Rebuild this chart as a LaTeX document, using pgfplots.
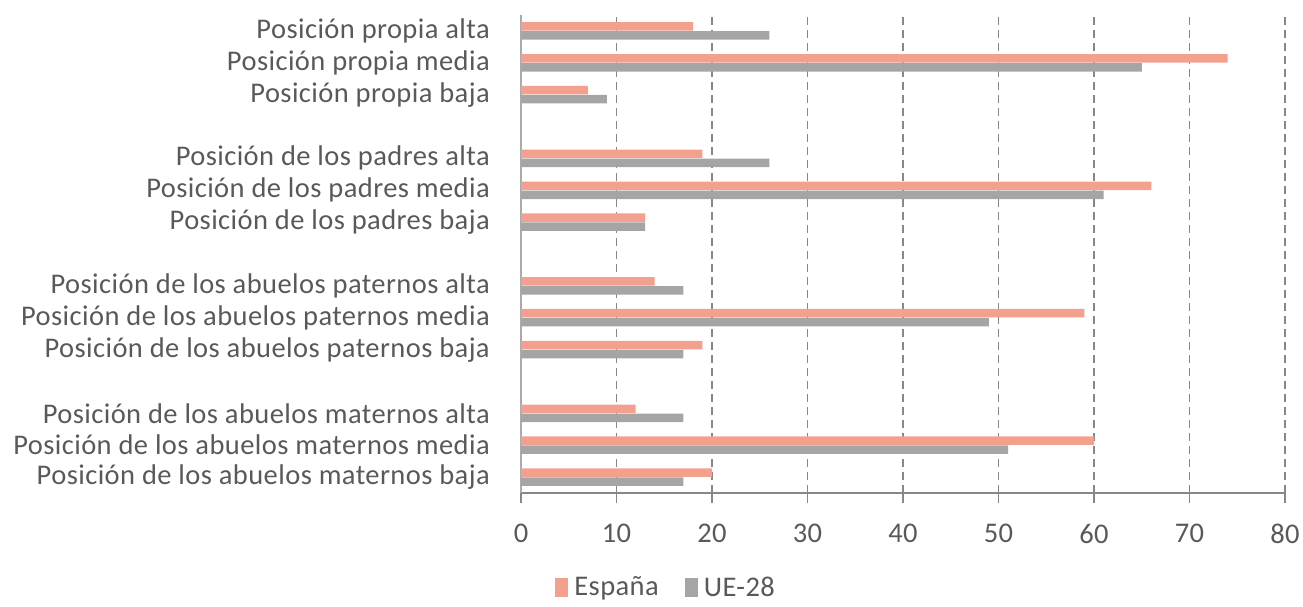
\documentclass[border=0pt]{standalone}
\usepackage{fontspec}
\setmainfont{Carlito}[LetterSpace=1.5]
\usepackage{pgfplots}
\pgfplotsset{compat=1.18}
\definecolor{esp}{HTML}{F3A08E}
\definecolor{ue}{HTML}{A5A5A5}
\definecolor{txt}{HTML}{595959}
\definecolor{gridc}{HTML}{878787}
\definecolor{yax}{HTML}{ABABAB}

\pgfplotstableread{
y  esp ue
14 18 26
13 74 65
12 7  9
10 19 26
9  66 61
8  13 13
6  14 17
5  59 49
4  19 17
2  12 17
1  60 51
0  20 17
}\datatable

\begin{document}
\begin{tikzpicture}[x=1pt,y=1pt]
\useasboundingbox (0,0) rectangle (1303,606);
\begin{axis}[
  at={(521pt,113pt)}, anchor=south west,
  scale only axis, width=764pt, height=478pt,
  xbar, bar width=8.5pt,
  xmin=0, xmax=80, ymin=-0.5, ymax=14.5,
  xtick={0,10,...,80},
  ytick={0,1,2,4,5,6,8,9,10,12,13,14},
  yticklabels={
    Posición de los abuelos maternos baja,
    Posición de los abuelos maternos media,
    Posición de los abuelos maternos alta,
    Posición de los abuelos paternos baja,
    Posición de los abuelos paternos media,
    Posición de los abuelos paternos alta,
    Posición de los padres baja,
    Posición de los padres media,
    Posición de los padres alta,
    Posición propia baja,
    Posición propia media,
    Posición propia alta},
  font=\fontsize{28.5}{32}\selectfont,
  tick label style={text=txt},
  /pgf/number format/assume math mode=true,
  axis x line=bottom, axis y line=left,
  x axis line style={-, color=gridc, line width=2pt},
  y axis line style={-, color=yax, line width=1.5pt},
  xtick style={color=gridc, line width=1.5pt},
  ytick style={draw=none},
  major tick length=10pt,
  xtick align=outside,
  xticklabel style={inner sep=0pt, anchor=north, yshift=-21pt},
  yticklabel style={inner sep=0pt, anchor=east, xshift=-26pt},
  xmajorgrids,
  major grid style={color=gridc, dash pattern=on 8pt off 5pt, line width=1.4pt},
  legend style={at={(axis description cs:0.19,-0.197)}, anchor=center,
    draw=none, fill=none, legend columns=2, text=txt, inner sep=1pt,
    /tikz/every odd column/.append style={column sep=4pt},
    /tikz/every even column/.append style={column sep=24pt}},
  legend image code/.code={\fill[#1] (2pt,-10pt) rectangle (15pt,9pt);},
]
\addplot[fill=esp, draw=none, bar shift=4.5pt] table[x=esp, y=y] {\datatable};
\addplot[fill=ue, draw=none, bar shift=-4.5pt] table[x=ue, y=y] {\datatable};
\legend{España, UE-28}
\end{axis}
\end{tikzpicture}
\end{document}
